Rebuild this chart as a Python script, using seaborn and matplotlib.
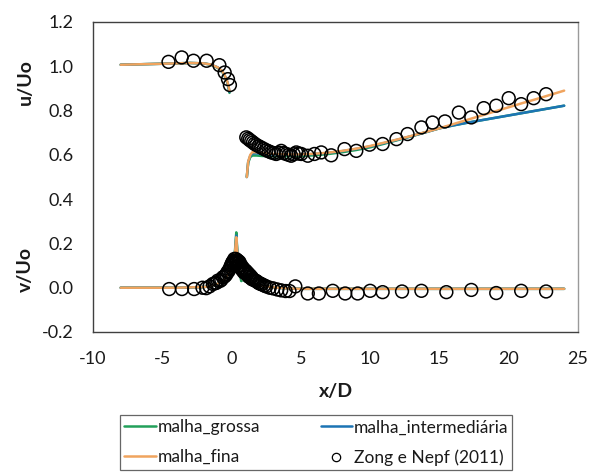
import numpy as np
import pandas as pd
import matplotlib
matplotlib.use("Agg")
import matplotlib.pyplot as plt
from matplotlib.lines import Line2D
import seaborn as sns

# ---------------- data ----------------
series_names = ["malha_grossa", "malha_intermediária", "malha_fina"]
exp_name = "Zong e Nepf (2011)"

# u/Uo upstream of the cylinder
x_u_up = [-8, -6, -4, -3, -2, -1.5, -1.0, -0.7, -0.5, -0.3, -0.15]
u_up_grossa = [1.007, 1.010, 1.013, 1.015, 1.013, 1.007, 0.993, 0.977, 0.957, 0.925, 0.880]
u_up_inter = [1.007, 1.010, 1.013, 1.015, 1.013, 1.008, 0.995, 0.979, 0.959, 0.928, 0.885]
u_up_fina = [1.007, 1.010, 1.013, 1.015, 1.013, 1.008, 0.995, 0.980, 0.960, 0.930, 0.890]

# u/Uo downstream of the cylinder
x_u_dn = [1.1, 1.2, 1.35, 1.5, 1.8, 2.2, 3, 4, 5, 6, 7, 8, 9, 10, 11, 12, 13, 14,
          15, 16, 17, 18, 19, 20, 21, 22, 23, 24]
u_dn_grossa = [0.50, 0.565, 0.590, 0.597, 0.597, 0.595, 0.594, 0.594, 0.595, 0.598, 0.604,
               0.612, 0.622, 0.634, 0.650, 0.667, 0.684, 0.702, 0.720, 0.733, 0.745, 0.756,
               0.767, 0.778, 0.789, 0.800, 0.811, 0.822]
u_dn_inter = [0.50, 0.568, 0.596, 0.606, 0.607, 0.604, 0.601, 0.600, 0.601, 0.604, 0.609,
              0.617, 0.627, 0.638, 0.653, 0.669, 0.685, 0.702, 0.720, 0.733, 0.745, 0.756,
              0.767, 0.778, 0.789, 0.800, 0.811, 0.822]
u_dn_fina = [0.50, 0.570, 0.600, 0.612, 0.612, 0.608, 0.604, 0.602, 0.602, 0.605, 0.610,
             0.618, 0.628, 0.640, 0.655, 0.670, 0.686, 0.703, 0.720, 0.739, 0.758, 0.777,
             0.796, 0.815, 0.834, 0.852, 0.871, 0.890]

# v/Uo along the centreline
x_v = [-8, -4, -2, -1.5, -1, -0.5, -0.2, 0, 0.15, 0.25, 0.3, 0.34, 0.4, 0.5, 0.6, 0.7,
       0.8, 1.0, 1.5, 2, 3, 4, 5, 8, 12, 16, 20, 24]
v_grossa = [0, 0, 0.003, 0.008, 0.018, 0.040, 0.065, 0.090, 0.125, 0.170, 0.215, 0.250,
            0.180, 0.100, 0.060, 0.030, 0.035, 0.030, 0.018, 0.010, 0.002, -0.003,
            -0.005, -0.005, -0.005, -0.005, -0.005, -0.005]
v_inter = [0, 0, 0.003, 0.008, 0.018, 0.040, 0.065, 0.090, 0.120, 0.160, 0.200, 0.235,
           0.172, 0.100, 0.060, 0.045, 0.040, 0.030, 0.018, 0.010, 0.002, -0.003,
           -0.005, -0.005, -0.005, -0.005, -0.005, -0.005]
v_fina = [0, 0, 0.003, 0.008, 0.018, 0.040, 0.065, 0.090, 0.120, 0.160, 0.200, 0.228,
          0.170, 0.100, 0.060, 0.048, 0.040, 0.030, 0.018, 0.010, 0.002, -0.003,
          -0.005, -0.005, -0.005, -0.005, -0.005, -0.005]

# experimental data (Zong & Nepf 2011)
x_exp_u = [-4.55, -3.6, -2.75, -1.8, -0.88, -0.5, -0.26, -0.12,
           1.06, 1.2, 1.3, 1.42, 1.54, 1.66, 1.78, 1.96, 2.14, 2.32, 2.5, 2.68, 2.86,
           3.04, 3.22, 3.4, 3.58, 3.76, 3.94, 4.12, 4.3, 4.48, 4.67, 4.85, 5.03, 5.5,
           5.98, 6.47, 7.19, 8.15, 9.0, 9.96, 10.9, 11.9, 12.7, 13.7, 14.5, 15.4, 16.4,
           17.3, 18.2, 19.1, 20.0, 20.9, 21.8, 22.7]
u_exp = [1.02, 1.04, 1.025, 1.025, 1.005, 0.972, 0.942, 0.915,
         0.679, 0.673, 0.667, 0.662, 0.656, 0.650, 0.645, 0.639, 0.633, 0.627, 0.621,
         0.616, 0.611, 0.608, 0.604, 0.610, 0.618, 0.608, 0.604, 0.600, 0.596, 0.603,
         0.611, 0.606, 0.604, 0.596, 0.604, 0.611, 0.598, 0.626, 0.618, 0.646, 0.649,
         0.671, 0.694, 0.724, 0.746, 0.751, 0.791, 0.769, 0.811, 0.822, 0.856, 0.829,
         0.856, 0.874]
x_exp_v = [-4.5, -3.58, -2.7, -2.1, -1.83, -1.59, -1.35, -1.2, -1.1, -0.99, -0.85,
           -0.74, -0.63, -0.52, -0.45, -0.38, -0.3, -0.22, -0.15, -0.08, -0.05, 0.0,
           0.05, 0.09, 0.12, 0.16, 0.2, 0.25, 0.3, 0.35, 0.4, 0.45, 0.5, 0.55, 0.58,
           0.64, 0.7, 0.76, 0.82, 0.88, 0.95, 1.0, 1.05, 1.12, 1.18, 1.24, 1.3, 1.36,
           1.42, 1.48, 1.54, 1.62, 1.7, 1.78, 1.85, 1.94, 2.02, 2.1, 2.2, 2.35, 2.5,
           2.75, 3.0, 3.3, 3.58, 3.9, 4.18, 4.6, 5.5, 6.3, 7.3, 8.2, 9.1, 10.0, 10.9,
           12.3, 13.7, 15.5, 17.3, 19.1, 20.9, 22.7]
v_exp = [-0.006, -0.006, -0.006, 0.0, -0.002, 0.006, 0.017, 0.02, 0.022, 0.032, 0.03,
         0.035, 0.047, 0.05, 0.055, 0.06, 0.07, 0.075, 0.085, 0.09, 0.1, 0.105,
         0.114, 0.11, 0.12, 0.115, 0.13, 0.12, 0.13, 0.115, 0.125, 0.11, 0.12, 0.1,
         0.115, 0.09, 0.1, 0.08, 0.09, 0.07, 0.08, 0.065, 0.075, 0.06, 0.066, 0.05,
         0.058, 0.045, 0.05, 0.038, 0.04, 0.035, 0.033, 0.03, 0.027, 0.022, 0.02,
         0.017, 0.015, 0.01, 0.006, 0.0, -0.003, -0.008, -0.012, -0.015, -0.015,
         0.006, -0.026, -0.026, -0.014, -0.026, -0.026, -0.014, -0.02, -0.017,
         -0.014, -0.02, -0.01, -0.024, -0.014, -0.017]

x_ticks = [-10, -5, 0, 5, 10, 15, 20, 25]
y_ticks = [-0.2, 0.0, 0.2, 0.4, 0.6, 0.8, 1.0, 1.2]

# ---------------- build tidy table ----------------
rows = []
curves = {
    "malha_grossa": [(x_u_up, u_up_grossa), (x_u_dn, u_dn_grossa), (x_v, v_grossa)],
    "malha_intermediária": [(x_u_up, u_up_inter), (x_u_dn, u_dn_inter), (x_v, v_inter)],
    "malha_fina": [(x_u_up, u_up_fina), (x_u_dn, u_dn_fina), (x_v, v_fina)],
}
for name, segs in curves.items():
    for k, (xs, ys) in enumerate(segs):
        for xx, yy in zip(xs, ys):
            rows.append({"x": xx, "y": yy, "malha": name, "seg": f"{name}_{k}"})
df = pd.DataFrame(rows)
df_exp = pd.DataFrame({"x": list(x_exp_u) + list(x_exp_v),
                       "y": list(u_exp) + list(v_exp)})

colors = {"malha_grossa": "#22A05A", "malha_intermediária": "#1C74B4",
          "malha_fina": "#F0A45E"}

# ---------------- plot ----------------
sns.set_theme(style="white")
plt.rcParams["font.family"] = ["Lato", "DejaVu Sans"]
plt.rcParams["axes.unicode_minus"] = False

fig = plt.figure(figsize=(5.9, 4.72), dpi=100)
ax = fig.add_axes([93 / 590, 1 - 332 / 472, (578 - 93) / 590, (332 - 22) / 472])

for name in series_names:
    sns.lineplot(data=df[df["malha"] == name], x="x", y="y", units="seg",
                 estimator=None, sort=False, color=colors[name], lw=1.8,
                 legend=False, ax=ax)

sns.scatterplot(data=df_exp, x="x", y="y", marker="o", s=85,
                facecolor="none", edgecolor="black", linewidth=1.1,
                legend=False, ax=ax, zorder=5)

ax.set_xlim(-10, 25)
ax.set_ylim(-0.2, 1.2)
ax.set_xticks(x_ticks)
ax.set_yticks(y_ticks)
ax.set_yticklabels([f"{t:.1f}" for t in y_ticks])
ax.set_xticklabels([str(t) for t in x_ticks])
ax.tick_params(axis="both", direction="out", length=5, width=1, color="#404040",
               labelsize=13, labelcolor="#1a1a1a")
ax.tick_params(axis="y", pad=9)
ax.tick_params(axis="x", pad=9)

for side in ["left", "bottom", "top"]:
    ax.spines[side].set_color("#404040")
    ax.spines[side].set_linewidth(1.0)
ax.spines["right"].set_color("#9a9a9a")
ax.spines["right"].set_linewidth(1.0)

ax.set_xlabel("x/D", fontsize=14, fontweight="bold", labelpad=11, color="#1a1a1a")
ax.set_ylabel("")
fig.text(25 / 590, 1 - 82 / 472, "u/Uo", rotation=90, fontsize=14,
         fontweight="bold", ha="center", va="center", color="#1a1a1a")
fig.text(25 / 590, 1 - 270 / 472, "v/Uo", rotation=90, fontsize=14,
         fontweight="bold", ha="center", va="center", color="#1a1a1a")

handles = [
    Line2D([], [], color=colors["malha_grossa"], lw=1.8),
    Line2D([], [], color=colors["malha_fina"], lw=1.8),
    Line2D([], [], color=colors["malha_intermediária"], lw=1.8),
    Line2D([], [], color="black", marker="o", ls="none", markerfacecolor="none",
           markersize=6, markeredgewidth=0.9),
]
labels = ["malha_grossa", "malha_fina", "malha_intermediária", exp_name]
leg = fig.legend(handles, labels, ncol=2, loc="upper left",
                 bbox_to_anchor=(120 / 590, 1 - 415 / 472), fontsize=12.5,
                 frameon=True, fancybox=False, borderpad=0.25, handlelength=1.8,
                 handletextpad=0.1, columnspacing=3.5, labelspacing=0.8,
                 borderaxespad=0)
leg.get_frame().set_edgecolor("#404040")
leg.get_frame().set_linewidth(0.9)
for t in leg.get_texts():
    t.set_color("#1a1a1a")

fig.savefig("out.png", dpi=100)
